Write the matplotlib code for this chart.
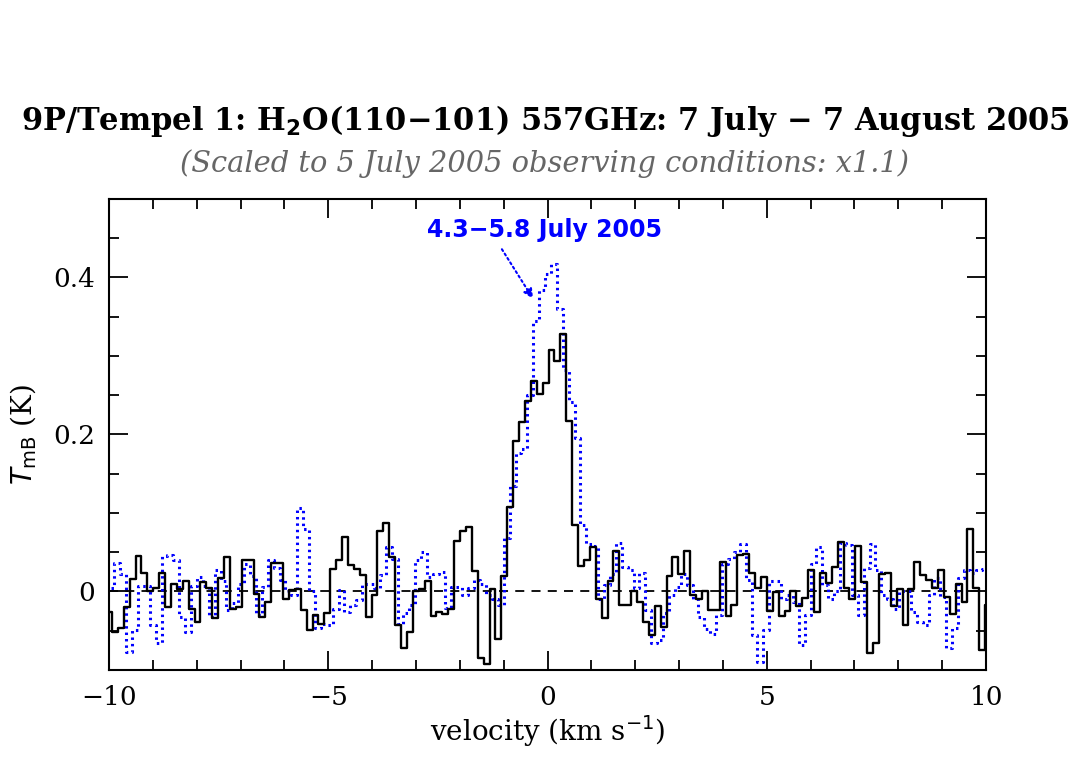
import numpy as np
import matplotlib
matplotlib.use("Agg")
import matplotlib.pyplot as plt
from matplotlib.ticker import MultipleLocator

# channel spacing (km/s) and first channel centre
dv = 0.13455
v_start = -10.0

# 7 July - 7 August 2005 (black histogram), T_mB in K
t_aug = [-0.026, -0.051, -0.047, -0.020, 0.016, 0.045, 0.024, 0.000, 0.005, 0.023,
         -0.020, 0.010, 0.003, 0.014, -0.022, -0.039, 0.012, 0.005, -0.034, 0.017,
         0.044, -0.022, -0.020, 0.040, 0.040, -0.003, -0.032, -0.013, 0.036, 0.036,
         -0.009, 0.002, 0.003, -0.024, -0.049, -0.030, -0.041, -0.028, 0.029, 0.040,
         0.070, 0.034, 0.029, 0.021, -0.032, -0.005, 0.077, 0.087, 0.044, -0.043,
         -0.072, -0.051, 0.000, 0.003, 0.014, -0.031, -0.026, -0.029, -0.022, 0.064,
         0.077, 0.082, 0.026, -0.085, -0.093, 0.003, -0.060, 0.020, 0.108, 0.192,
         0.216, 0.243, 0.268, 0.252, 0.265, 0.307, 0.293, 0.328, 0.217, 0.085,
         0.032, 0.040, 0.057, -0.010, -0.034, 0.014, 0.051, -0.017, -0.017, 0.000,
         -0.014, -0.039, -0.056, -0.018, -0.045, 0.020, 0.044, 0.022, 0.052, -0.005,
         -0.009, 0.000, -0.024, -0.024, 0.038, -0.031, -0.017, 0.047, 0.048, 0.024,
         0.005, 0.018, -0.025, -0.001, -0.031, -0.025, 0.000, -0.018, -0.008, 0.027,
         -0.026, 0.023, 0.011, 0.031, 0.063, 0.004, -0.009, 0.058, 0.012, -0.078,
         -0.065, 0.022, 0.023, -0.018, 0.003, -0.043, 0.003, 0.037, 0.021, 0.015,
         0.005, 0.027, -0.007, -0.029, 0.009, -0.014, 0.079, 0.005, -0.075, -0.017]

# 4.3-5.8 July 2005 (blue dotted histogram)
t_jul = [0.005, 0.036, 0.022, -0.077, -0.049, 0.007, 0.007, -0.043, -0.066, 0.045,
         0.047, 0.040, -0.032, -0.051, 0.007, 0.019, 0.007, -0.032, 0.028, 0.014,
         -0.024, -0.015, 0.010, 0.035, 0.020, -0.030, 0.006, 0.040, 0.030, 0.015,
         0.000, -0.005, 0.106, 0.080, 0.000, -0.047, -0.042, -0.043, -0.022, 0.002,
         -0.026, -0.017, -0.011, 0.009, 0.009, 0.004, 0.021, 0.057, 0.041, -0.042,
         -0.028, -0.017, 0.040, 0.050, 0.019, 0.022, 0.025, -0.021, 0.006, 0.006,
         -0.005, 0.004, 0.015, 0.010, -0.005, -0.009, -0.017, 0.068, 0.135, 0.176,
         0.182, 0.250, 0.344, 0.384, 0.405, 0.417, 0.360, 0.282, 0.242, 0.195,
         0.085, 0.061, 0.058, -0.009, 0.008, 0.022, 0.062, 0.031, 0.027, 0.004,
         0.024, -0.024, -0.066, -0.062, -0.028, -0.004, 0.006, 0.022, 0.008, -0.009,
         -0.032, -0.048, -0.054, -0.030, 0.035, 0.042, 0.050, 0.060, 0.015, -0.056,
         -0.090, -0.049, 0.014, 0.014, -0.009, -0.005, -0.013, -0.068, -0.030, 0.035,
         0.057, 0.008, -0.009, 0.000, 0.062, 0.059, -0.005, -0.030, 0.030, 0.061,
         0.027, -0.005, -0.009, -0.022, 0.000, 0.000, -0.026, -0.039, -0.043, -0.005,
         0.017, -0.007, -0.072, -0.047, 0.017, 0.027, 0.024, 0.027, 0.029, 0.030]

v_aug = v_start + dv * np.arange(len(t_aug))
v_jul = v_start + dv * (np.arange(len(t_jul)) + 0.4)

plt.rcParams["font.family"] = "DejaVu Serif"

fig = plt.figure(figsize=(10.9, 7.63), dpi=100)
ax = fig.add_axes([0.1, 0.1219, 0.8046, 0.6173])

ax.axhline(0, color="black", lw=1.3, ls=(0, (5, 4)))
ax.step(v_jul, t_jul, where="mid", color="#0000ff", lw=2.2, ls=(0, (0.8, 1.3)))
ax.step(v_aug, t_aug, where="mid", color="black", lw=1.7)

ax.set_xlim(-10, 10)
ax.set_ylim(-0.1, 0.5)
ax.xaxis.set_major_locator(MultipleLocator(5))
ax.xaxis.set_minor_locator(MultipleLocator(1))
ax.yaxis.set_major_locator(MultipleLocator(0.2))
ax.yaxis.set_minor_locator(MultipleLocator(0.05))
ax.yaxis.set_major_formatter(lambda y, pos: "0" if abs(y) < 1e-9 else f"{y:.1f}")
ax.tick_params(which="both", direction="in", top=True, right=True, width=1.3,
               labelsize=19)
ax.tick_params(axis="x", pad=11)
ax.tick_params(axis="y", pad=10)
ax.tick_params(which="major", length=14)
ax.tick_params(which="minor", length=7)
for s in ax.spines.values():
    s.set_linewidth(1.5)

ax.set_xlabel("velocity (km s$^{-1}$)", fontsize=20, labelpad=2)
ax.set_ylabel("$T_{\\rm mB}$ (K)", fontsize=20, labelpad=10)

fig.text(0.5, 0.842, "9P/Tempel 1: H$_{\\mathbf{2}}$O(110\u2212101) 557GHz: 7 July \u2212 7 August 2005",
         ha="center", va="center", fontsize=22, fontweight="bold")
fig.text(0.5, 0.786, "(Scaled to 5 July 2005 observing conditions: x1.1)",
         ha="center", va="center", fontsize=20.8, style="italic", color="#666666")

# label and dotted pointer for the July spectrum
ax.text(-0.06, 0.461, "4.3\u22125.8 July 2005", ha="center", va="center",
        color="#0000ff", fontsize=17, fontweight="bold", fontfamily="DejaVu Sans")
ax.annotate("", xy=(-0.33, 0.373), xytext=(-1.04, 0.436),
            arrowprops=dict(arrowstyle="-|>", color="#0000ff", lw=1.5, ls=(0, (1, 1.5)),
                            mutation_scale=14, shrinkA=0, shrinkB=0))

fig.savefig("out.png", dpi=100)
